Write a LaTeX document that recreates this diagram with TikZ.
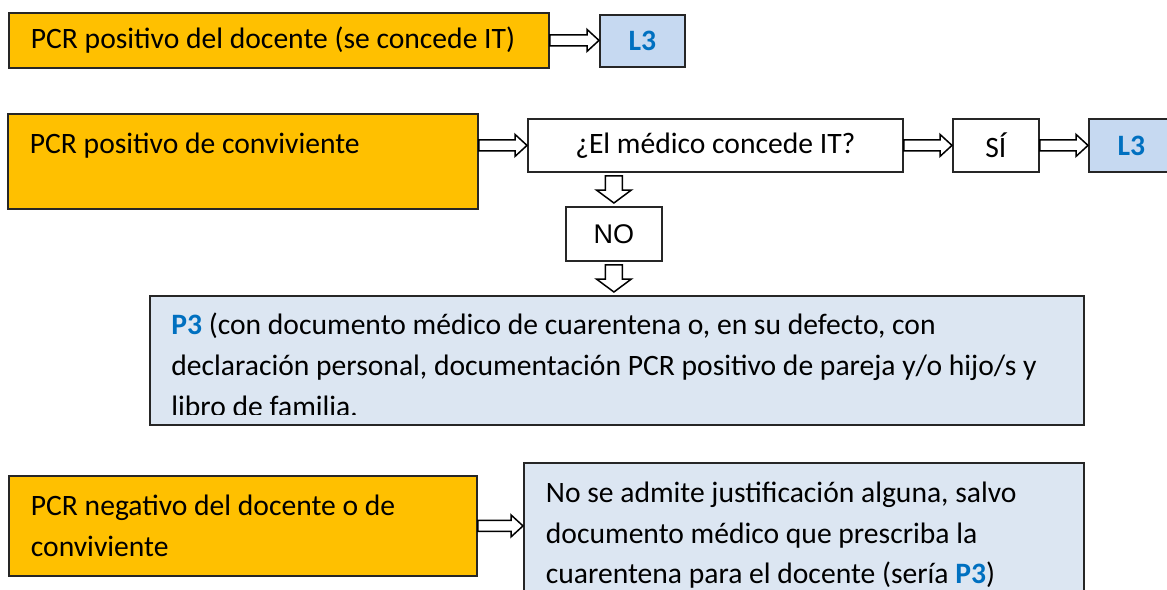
\documentclass[tikz,border=0pt]{standalone}
\usepackage{fontspec}
\setmainfont{Carlito}
\newfontfamily\arialfont{Liberation Sans}
\usetikzlibrary{calc}
\definecolor{pcrorange}{HTML}{FFC000}
\definecolor{levelblue}{HTML}{C6D9F1}
\definecolor{notefill}{HTML}{DCE6F2}
\definecolor{codeblue}{HTML}{0070C0}

\begin{document}
\begin{tikzpicture}[x=0.5pt, y=-0.5pt]
    \tikzstyle{Box} = [
            draw=black!85,
            line width=0.9pt,
            rectangle,
            inner sep=0pt,
            anchor=north west,
            font={\fontsize{14.8}{20.25}\selectfont}
    ];
    \tikzstyle{Case} = [
            Box,
            fill=pcrorange,
            inner xsep=11pt,
            align=flush left
    ];
    \tikzstyle{Note} = [
            Box,
            fill=notefill,
            inner xsep=11pt,
            align=flush left
    ];
    \tikzstyle{NoteText} = [
            anchor=north west,
            inner sep=0pt,
            inner xsep=11pt,
            align=flush left,
            text height=19.5pt,
            font={\fontsize{14.8}{20.5}\selectfont}
    ];
    \tikzstyle{Question} = [
            Box,
            fill=white,
            minimum height=26.5pt
    ];
    \tikzstyle{Level} = [
            Box,
            fill=levelblue,
            text=codeblue,
            minimum width=42.5pt,
            font={\fontsize{14.8}{20.25}\selectfont\bfseries}
    ];
    \tikzstyle{RightArrow} = [
            draw=black,
            fill=white,
            line width=0.75pt,
            to path={let \p1=(\tikztostart), \p2=(\tikztotarget) in
                (\x1,\y1+2.75pt) -- (\x2-6pt,\y1+2.75pt) -- (\x2-6pt,\y1+5.5pt) -- (\x2,\y1)
                -- (\x2-6pt,\y1-5.5pt) -- (\x2-6pt,\y1-2.75pt) -- (\x1,\y1-2.75pt) -- cycle}
    ];
    \tikzstyle{DownArrow} = [
            draw=black,
            fill=white,
            line width=0.75pt,
            to path={let \p1=(\tikztostart), \p2=(\tikztotarget) in
                (\x1-4.25pt,\y1-1.5pt) -- (\x1-4.25pt,\y2+8pt) -- (\x1-8.75pt,\y2+8pt) -- (\x1,\y2+1.5pt)
                -- (\x1+8.75pt,\y2+8pt) -- (\x1+4.25pt,\y2+8pt) -- (\x1+4.25pt,\y1-1.5pt) -- cycle}
    ];

    \useasboundingbox (0,0) rectangle (1167,589);
    \clip (0,0) rectangle (1167,589);

    \node[Case, name=PosDocente, text width=248pt, minimum height=27.5pt] at (8,12) {PCR positivo del docente (se concede IT)};
    \node[Level, name=LevelA, minimum height=26pt] at (599,14) {L3};

    \node[Case, name=PosConviviente, text width=213pt, text height=20pt, text depth=27.5pt] at (7,113) {PCR positivo de conviviente};
    \node[Question, name=Medico, minimum width=187.5pt] at (527,118) {¿El médico concede IT?};
    \node[Question, name=Si, minimum width=43pt] at (952,118) {SÍ};
    \node[Level, name=LevelB, minimum height=26.5pt] at (1088,118) {L3};
    \node[Question, name=No, minimum width=48pt, minimum height=27pt, font={\arialfont\fontsize{13.5}{16}\selectfont}] at (565,206) {NO};

    \node[Note, name=P3Box, minimum width=467pt, minimum height=64.5pt] at (149,295) {};
    \begin{scope}
        \clip (P3Box.north west) rectangle ([yshift=5.5pt]P3Box.south east);
        \node[NoteText, name=P3Text, text width=445pt] at (P3Box.north west) {\textcolor{codeblue}{\bfseries P3} (con documento médico de cuarentena o, en su defecto, con\\declaración personal, documentación PCR positivo de pareja y/o hijo/s y\\libro de familia.};
    \end{scope}

    \node[Case, name=NegPCR, text width=212pt, text height=20pt, text depth=30pt] at (8,475) {PCR negativo del docente o de\\conviviente};
    \node[Note, name=NoJustifica, text width=258pt, text height=20pt, text depth=55pt] at (523,462) {No se admite justificación alguna, salvo\\documento médico que prescriba la\\cuarentena para el docente (sería \textcolor{codeblue}{\bfseries P3})};

    \path (PosDocente.east)                  edge [RightArrow] (LevelA.west)
          (PosConviviente.east |- Medico.west) edge [RightArrow] (Medico.west)
          (Medico.east)                      edge [RightArrow] (Si.west)
          (Si.east)                          edge [RightArrow] (LevelB.west)
          (No.north |- Medico.south)         edge [DownArrow]  (No.north)
          (No.south)                         edge [DownArrow]  (No.south |- P3Box.north)
          (NegPCR.east)                      edge [RightArrow] (NoJustifica.west |- NegPCR.east);
\end{tikzpicture}
\end{document}
